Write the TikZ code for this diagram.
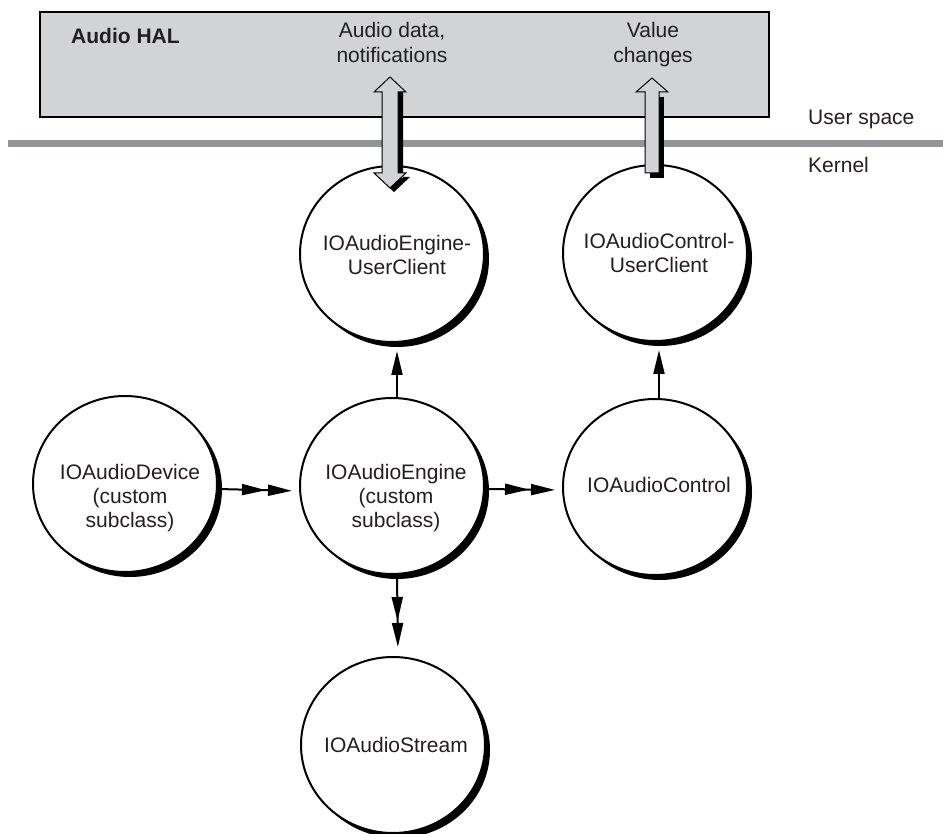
\documentclass[tikz,border=0pt]{standalone}
\usepackage{fontspec}
\setmainfont{Liberation Sans}
\usetikzlibrary{shapes.geometric,shadows,arrows.meta,calc}

\definecolor{halgray}{RGB}{209,211,212}
\definecolor{rulegray}{RGB}{147,149,152}
\definecolor{ink}{RGB}{35,31,32}

\tikzset{
  proc/.style={ellipse, draw=black, line width=2pt, fill=white,
    minimum width=184pt, minimum height=176pt, inner sep=0pt,
    drop shadow={shadow xshift=5pt, shadow yshift=-5pt, opacity=1, fill=black}},
  lbl/.style={text=ink, font=\fontsize{21}{24}\selectfont, align=center, inner sep=0pt},
  hdr/.style={lbl, font=\fontsize{21}{25.5}\selectfont},
  flow/.style={line width=2pt, -{Triangle[length=24pt,width=11pt]}, shorten >=7pt},
  flowtwo/.style={line width=2pt,
    -{Triangle[length=24pt,width=11pt,sep=2pt]Triangle[length=24pt,width=11pt,sep=2pt]},
    shorten >=5pt},
  bigarrow/.style={fill=halgray, draw=black, line width=1pt, line join=miter},
}

\begin{document}
\begin{tikzpicture}[x=1pt,y=-1pt]
\useasboundingbox (0,0) rectangle (943,834);

% user-space block
\node[draw=black, line width=2pt, fill=halgray, minimum width=729pt,
      minimum height=105pt, anchor=north west, inner sep=0pt] (hal) at (39,11) {};

% user/kernel boundary
\fill[rulegray] (8,140) rectangle (943,147);

% kernel objects
\node[proc] (dev) at (125,484) {};
\node[proc] (eng) at (392,486) {};
\node[proc] (ctl) at (655,487) {};
\node[proc] (euc) at (392,254) {};
\node[proc] (cuc) at (655,253) {};
\node[proc] (str) at (393,745) {};

% relationships
\draw[flowtwo] ([yshift=-5pt]dev.east) -- ([yshift=-5pt]eng.west);
\draw[flowtwo] ([yshift=-3pt]eng.east) -- ([yshift=-3pt]ctl.west);
\draw[flowtwo, shorten >=7pt] ([xshift=5pt]eng.south) -- ([xshift=5pt]str.north);
\draw[flow, shorten >=8pt] ([xshift=5pt]eng.north) -- ([xshift=5pt]euc.south);
\draw[flow, shorten >=8pt] ([xshift=4pt]ctl.north) -- ([xshift=4pt]cuc.south);

% crossings into user space
\coordinate (dtip) at (390,77);
\begin{scope}[shift={(dtip)}]
  \fill[black] (-3,15) rectangle (13,101) (-12,100) -- (20,100) -- (4,115) -- cycle;
  \draw[bigarrow] (0,0) -- (16,15) -- (8,15) -- (8,96) -- (16,96) -- (0,111)
    -- (-16,96) -- (-8,96) -- (-8,15) -- (-16,15) -- cycle;
\end{scope}
\coordinate (vtip) at (652,78);
\begin{scope}[shift={(vtip)}]
  \fill[black] (-2,19) rectangle (12,100);
  \draw[bigarrow] (0,0) -- (16,14) -- (7,14) -- (7,95) -- (-7,95) -- (-7,14)
    -- (-16,14) -- cycle;
\end{scope}

% labels
\node[lbl, font=\fontsize{21}{24}\selectfont\bfseries, anchor=base west] (haltitle) at (71,44) {Audio HAL};
\node[hdr] (datatxt) at (392,42.5) {Audio data,\\notifications};
\node[hdr] (valtxt) at (653,44.5) {Value\\changes};
\node[lbl, anchor=base west] (usr) at (808,125) {User space};
\node[lbl, anchor=base west] (krn) at (808,173) {Kernel};

\node[lbl] (devtxt) at ($(dev)+(5,14)$) {IOAudioDevice\\(custom\\subclass)};
\node[lbl] (engtxt) at ($(eng)+(4,12)$) {IOAudioEngine\\(custom\\subclass)};
\node[lbl] (ctltxt) at ($(ctl)+(4,-2)$) {IOAudioControl};
\node[lbl] (euctxt) at ($(euc)+(5,1)$) {IOAudioEngine-\\UserClient};
\node[lbl] (cuctxt) at ($(cuc)+(4,0)$) {IOAudioControl-\\UserClient};
\node[lbl] (strtxt) at ($(str)+(3,0)$) {IOAudioStream};
\end{tikzpicture}
\end{document}
